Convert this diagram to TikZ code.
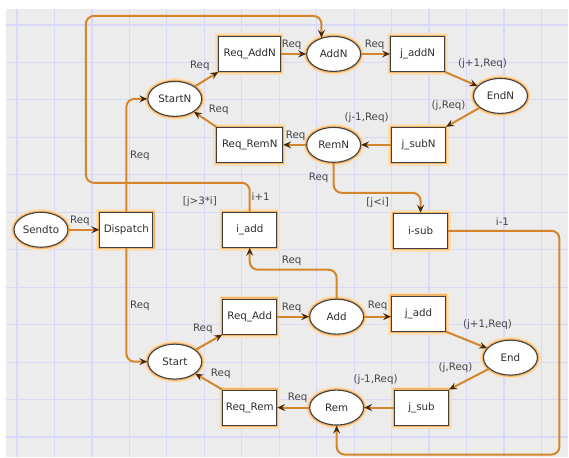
\documentclass[tikz,border=0pt]{standalone}
\usepackage{fontspec}
\setmainfont{DejaVu Sans}
\usetikzlibrary{arrows.meta,shapes.geometric,calc}
\definecolor{bggray}{RGB}{236,236,236}
\definecolor{gridc}{RGB}{216,216,248}
\definecolor{arcc}{RGB}{214,134,42}
\definecolor{tipc}{RGB}{70,40,5}
\definecolor{glowA}{RGB}{252,224,188}
\definecolor{glowB}{RGB}{244,180,104}
\definecolor{txt}{RGB}{45,45,45}
\definecolor{lbltxt}{RGB}{70,70,70}
\begin{document}
\begin{tikzpicture}[x=1pt,y=-1pt,
  every node/.style={font=\fontsize{10.3}{12}\selectfont, text=txt},
  glow/.style={preaction={draw=glowA,line width=7pt},preaction={draw=glowB,line width=3.5pt}},
  place/.style={ellipse, glow, draw=black!75, line width=1.1pt, fill=white, minimum width=54pt, minimum height=35pt, inner sep=0pt},
  trans/.style={rectangle, glow, draw=black!75, line width=1.1pt, fill=white, minimum width=54pt, minimum height=35pt, inner sep=1pt},
  arc/.style={draw=arcc, line width=2pt, rounded corners=8pt, -{Stealth[length=8pt,width=7pt,inset=3pt,color=tipc]}},
  lbl/.style={text=lbltxt, inner sep=0pt}
]
% background
\fill[white] (0,0) rectangle (569,457);
\fill[bggray] (6,9) rectangle (569,457);
\foreach \x in {17,54.5,...,545} \draw[gridc, line width=1.2pt] (\x,9) -- (\x,457);
\foreach \y in {25,62.5,...,440} \draw[gridc, line width=1.2pt] (6,\y) -- (569,\y);

% nodes
\node[place] (Sendto) at (41,230) {Sendto};
\node[trans, minimum width=53pt] (Dispatch) at (126.5,230) {Dispatch};
\node[trans] (iadd) at (250,230) {i\_add};
\node[trans] (isub) at (421,231) {i-sub};

\node[trans, minimum width=62pt] (ReqAddN) at (250,54) {Req\_AddN};
\node[place] (StartN) at (175,99) {StartN};
\node[trans, minimum width=66pt] (ReqRemN) at (250,145) {Req\_RemN};
\node[place] (AddN) at (334,54) {AddN};
\node[trans] (jaddN) at (418,54) {j\_addN};
\node[place] (EndN) at (501,96) {EndN};
\node[trans] (jsubN) at (419,145) {j\_subN};
\node[place] (RemN) at (334,145) {RemN};

\node[trans] (ReqAdd) at (250,317) {Req\_Add};
\node[place] (Start) at (175,362) {Start};
\node[trans] (ReqRem) at (250,408) {Req\_Rem};
\node[place] (Add) at (337,317) {Add};
\node[trans] (jadd) at (419,314) {j\_add};
\node[place] (End) at (511,358) {End};
\node[trans] (jsub) at (422,408) {j\_sub};
\node[place] (Rem) at (337,408) {Rem};

% helper coordinates
\coordinate (c1) at (380,193);
\coordinate (c2) at (86,183);
\coordinate (c3) at (200,16);
\coordinate (c4) at (300,270);
\coordinate (c5) at (560,455);

% connectors
\draw[arc] (Sendto) -- (Dispatch);
\draw[arc] (Dispatch.north) |- (StartN.west);
\draw[arc] (Dispatch.south) |- (Start.west);

\draw[arc] (StartN) -- (ReqAddN.south west);
\draw[arc] (ReqRemN.north west) -- (StartN);
\draw[arc] (ReqAddN) -- (AddN);
\draw[arc] (AddN) -- (jaddN);
\draw[arc] (jaddN.south east) -- (EndN);
\draw[arc] (EndN) -- (jsubN.north east);
\draw[arc] (jsubN.west) -- (RemN.east);
\draw[arc] (RemN) -- (ReqRemN);
\draw[arc] (RemN.south) |- (c1) -| (isub.north);
\draw[arc] (iadd.north) |- (c2) |- (c3) -| (AddN.127);

\draw[arc] (Start) -- (ReqAdd.south west);
\draw[arc] (ReqRem.north west) -- (Start);
\draw[arc] (ReqAdd) -- (Add);
\draw[arc] (Add.east) -- (Add.east -| jadd.west);
\draw[arc] (jadd.south east) -- (End);
\draw[arc] (End) -- (jsub.north east);
\draw[arc] (jsub.west) -- (Rem.east);
\draw[arc] (Rem) -- (ReqRem);
\draw[arc] (Add.north) |- (c4) -| (iadd.south);
\draw[arc] (isub.east) -| (c5) -| (Rem.south);

% labels
\node[lbl] (l1) at (80,221) {Req};
\node[lbl] (l2) at (140,156) {Req};
\node[lbl] (l3) at (140,306) {Req};
\node[lbl] (l4) at (200,66) {Req};
\node[lbl] (l5) at (219,110) {Req};
\node[lbl] (l6) at (200,202) {[j>3*i]};
\node[lbl] (l7) at (261,197) {i+1};
\node[lbl] (l8) at (292,45) {Req};
\node[lbl] (l9) at (375,45) {Req};
\node[lbl] (l10) at (483,64) {(j+1,Req)};
\node[lbl] (l11) at (449,106) {(j,Req)};
\node[lbl] (l12) at (367,118) {(j-1,Req)};
\node[lbl] (l13) at (296,136) {Req};
\node[lbl] (l14) at (319,178) {Req};
\node[lbl] (l15) at (378,203) {[j<i]};
\node[lbl] (l16) at (503,222) {i-1};
\node[lbl] (l17) at (292,261) {Req};
\node[lbl] (l18) at (292,308) {Req};
\node[lbl] (l19) at (378,306) {Req};
\node[lbl] (l20) at (488,325) {(j+1,Req)};
\node[lbl] (l21) at (456,368) {(j,Req)};
\node[lbl] (l22) at (376,380) {(j-1,Req)};
\node[lbl] (l23) at (298,398) {Req};
\node[lbl] (l24) at (203,329) {Req};
\node[lbl] (l25) at (221,374) {Req};
\end{tikzpicture}
\end{document}
